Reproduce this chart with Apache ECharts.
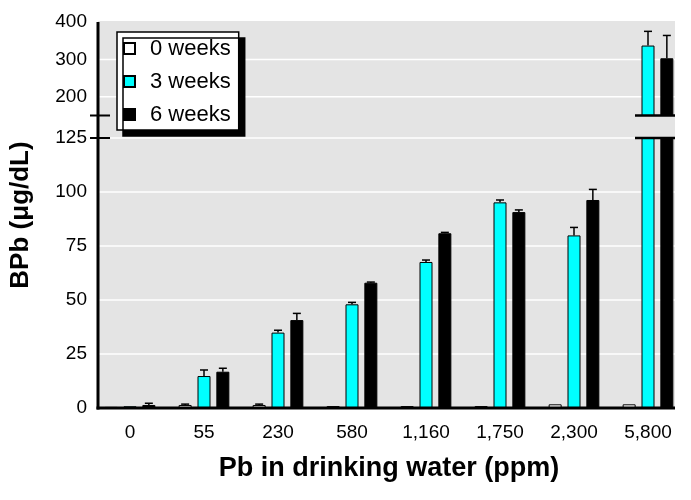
<!DOCTYPE html>
<html><head><meta charset="utf-8">
<script src="https://cdn.jsdelivr.net/npm/echarts@6/dist/echarts.min.js"></script>
<style>html,body{margin:0;padding:0;background:#fff}#c{width:691px;height:500px}</style>
</head><body><div id="c"></div>
<script>
const categories = ['0','55','230','580','1,160','1,750','2,300','5,800'];
const seriesNames = ['0 weeks','3 weeks','6 weeks'];
const weeks0 = [0.5, 1.4, 1.4, 0.9, 0.9, 0.9, 1.7, 1.7];
const weeks0Err = [0, 0.4, 0.4, 0, 0, 0, 0, 0];
const weeks3 = [0.8, 14.8, 34.9, 48.0, 67.6, 95.2, 79.9, 337];
const weeks3Err = [0, 2.8, 1.1, 0.9, 0.9, 1.1, 3.7, 38];
const weeks6 = [1.4, 16.8, 40.7, 58.0, 80.9, 90.7, 96.3, 303];
const weeks6Err = [0.8, 1.6, 3.1, 0.3, 0.4, 1.0, 4.9, 61];
const lowerRange = [0, 125];
const upperRange = [150, 400];
const upperTicks = [200, 300, 400];
const upperGridValues = [200, 300];
const xTitle = 'Pb in drinking water (ppm)';
const yTitle = 'BPb (μg/dL)';

const values = [weeks0, weeks3, weeks6];
const errors = [weeks0Err, weeks3Err, weeks6Err];
const colors = ['#ffffff', '#00ffff', '#000000'];
const FONT = "'Liberation Sans', Arial, sans-serif";
const BAR_W = 13, BAR_GAP = 0.45;
const FRAME_L = 98, FRAME_R = 675;

const chart = echarts.init(document.getElementById('c'), null, {renderer: 'canvas'});
const ranges = [lowerRange, upperRange];
const series = [];
for (let g = 0; g < 2; g++) {
  for (let s = 0; s < 3; s++) {
    series.push({
      type: 'bar', name: seriesNames[s], xAxisIndex: g, yAxisIndex: g,
      data: values[s], barWidth: BAR_W, barGap: (BAR_GAP * 100) + '%',
      itemStyle: {color: colors[s], borderColor: '#000', borderWidth: 1},
      animation: false, z: 2
    });
  }
}
for (let g = 0; g < 2; g++) {
  for (let s = 0; s < 3; s++) {
    const rng = ranges[g];
    series.push({
      type: 'custom', name: 'err' + g + s, xAxisIndex: g, yAxisIndex: g, z: 3,
      animation: false, silent: true,
      encode: {x: 0, y: 1},
      data: categories.map((c, i) => [i, values[s][i], errors[s][i]]),
      renderItem: function (params, api) {
        const i = api.value(0), v = api.value(1), e = api.value(2);
        if (!(e > 0) || v < rng[0] || v > rng[1]) return null;
        const top = Math.min(v + e, rng[1]);
        const p0 = api.coord([i, v]);
        const p1 = api.coord([i, top]);
        const x = p0[0] + (s - 1) * BAR_W * (1 + BAR_GAP);
        return {type: 'group', children: [
          {type: 'line', shape: {x1: x, y1: p0[1], x2: x, y2: p1[1]}, style: {stroke: '#000', lineWidth: 1.5}},
          {type: 'line', shape: {x1: x - 4, y1: p1[1], x2: x + 4, y2: p1[1]}, style: {stroke: '#000', lineWidth: 1.5}}
        ]};
      }
    });
  }
}

chart.setOption({
  animation: false,
  backgroundColor: '#fff',
  textStyle: {fontFamily: FONT},
  grid: [
    {left: 93, top: 138, width: 592, height: 270},
    {left: 93, top: 22, width: 592, height: 93.5}
  ],
  legend: {
    orient: 'vertical', left: 117, top: 32,
    data: seriesNames, icon: 'rect',
    itemWidth: 11, itemHeight: 11, itemGap: 8,
    padding: [4, 8, 3, 6],
    backgroundColor: '#fff', borderColor: '#000', borderWidth: 1.5,
    shadowColor: '#000', shadowOffsetX: 6, shadowOffsetY: 6, shadowBlur: 0,
    textStyle: {fontSize: 22, color: '#000', fontFamily: FONT, padding: [0, 0, 0, 10], lineHeight: 25},
    selectedMode: false
  },
  xAxis: [
    {gridIndex: 0, type: 'category', data: categories,
     axisLine: {show: false}, axisTick: {show: false},
     axisLabel: {fontSize: 19, color: '#000', margin: 15, fontFamily: FONT},
     name: xTitle, nameLocation: 'middle', nameGap: 47,
     nameTextStyle: {fontSize: 27, fontWeight: 'bold', color: '#000', fontFamily: FONT}},
    {gridIndex: 1, type: 'category', data: categories, show: false}
  ],
  yAxis: [
    {gridIndex: 0, type: 'value', min: lowerRange[0], max: lowerRange[1], interval: 25,
     axisLine: {show: false}, axisTick: {show: false},
     axisLabel: {fontSize: 19, color: '#000', margin: 6, fontFamily: FONT},
     splitLine: {show: true, lineStyle: {color: '#ffffff', width: 1.5}}},
    {gridIndex: 1, type: 'value', min: upperRange[0], max: upperRange[1], interval: 50,
     axisLine: {show: false}, axisTick: {show: false},
     axisLabel: {fontSize: 19, color: '#000', margin: 6, fontFamily: FONT,
       formatter: v => upperTicks.indexOf(v) >= 0 ? String(v) : ''},
     splitLine: {show: false}}
  ],
  series: series
});

// decorations computed from the library's scales
const yBottom = chart.convertToPixel({yAxisIndex: 0}, lowerRange[0]);
const yLowTop = chart.convertToPixel({yAxisIndex: 0}, lowerRange[1]);
const yUpBottom = chart.convertToPixel({yAxisIndex: 1}, upperRange[0]);
const yTop = chart.convertToPixel({yAxisIndex: 1}, upperRange[1]);
const xLast = chart.convertToPixel({xAxisIndex: 0}, categories[categories.length - 1]);
const lineStyle = (w) => ({stroke: '#000', lineWidth: w});
const graphics = [
  {type: 'rect', z: -5, shape: {x: FRAME_L, y: yTop - 1, width: FRAME_R - FRAME_L, height: yBottom - yTop + 1}, style: {fill: '#e4e4e4'}, silent: true}
];
upperGridValues.forEach(v => {
  const y = chart.convertToPixel({yAxisIndex: 1}, v);
  graphics.push({type: 'line', z: -1, shape: {x1: FRAME_L, y1: y, x2: FRAME_R, y2: y}, style: {stroke: '#fff', lineWidth: 1.5}, silent: true});
});
graphics.push(
  {type: 'line', z: 10, shape: {x1: FRAME_L, y1: yTop, x2: FRAME_L, y2: yBottom + 1.5}, style: lineStyle(3), silent: true},
  {type: 'line', z: 10, shape: {x1: FRAME_L - 1.5, y1: yBottom, x2: FRAME_R, y2: yBottom}, style: lineStyle(3), silent: true},
  {type: 'line', z: 10, shape: {x1: FRAME_L - 8, y1: yLowTop, x2: FRAME_L + 12, y2: yLowTop}, style: lineStyle(2), silent: true},
  {type: 'line', z: 10, shape: {x1: FRAME_L - 8, y1: yUpBottom, x2: FRAME_L + 12, y2: yUpBottom}, style: lineStyle(2), silent: true},
  {type: 'line', z: 10, shape: {x1: xLast - BAR_W, y1: yLowTop, x2: FRAME_R, y2: yLowTop}, style: lineStyle(2.5), silent: true},
  {type: 'line', z: 10, shape: {x1: xLast - BAR_W, y1: yUpBottom, x2: FRAME_R, y2: yUpBottom}, style: lineStyle(2.5), silent: true},
  {type: 'text', z: 10, x: 21, y: (yTop + yBottom) / 2, rotation: Math.PI / 2,
   style: {text: yTitle, fontSize: 26, fontWeight: 'bold', fill: '#000', fontFamily: FONT, align: 'center', verticalAlign: 'middle'}, silent: true}
);
chart.setOption({graphic: {elements: graphics}});
</script>
</body></html>
